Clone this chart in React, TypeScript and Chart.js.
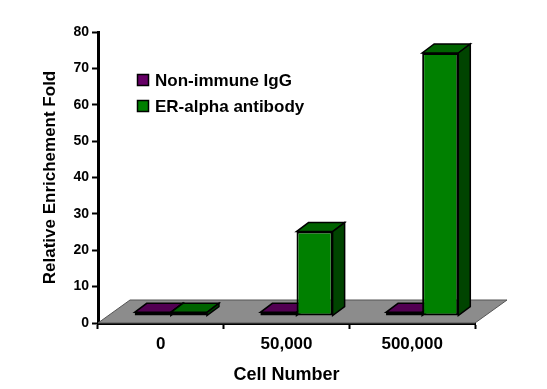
import React, { useEffect, useRef } from 'react';
import { Chart, registerables } from 'chart.js';

Chart.register(...registerables);

// ---- data ----
const categories = ['0', '50,000', '500,000'];
const seriesLabels = ['Non-immune IgG', 'ER-alpha antibody'];
const nonImmuneIgG = [1.0, 1.0, 1.0];
const erAlphaAntibody = [1.0, 23.2, 72.3];
const yMin = 0;
const yMax = 80;
const yStep = 10;
const xTitle = 'Cell Number';
const yTitle = 'Relative Enrichement Fold';

// ---- styles ----
const FONT = "'Liberation Sans', Arial, Helvetica, sans-serif";
const frontColors = ['#660066', '#008000'];
const topColors = ['#520052', '#006300'];
const sideColors = ['#3a003a', '#004400'];
const SHIFT_X = 10;
const SHIFT_Y = -7;
const DEPTH_X = 12;
const DEPTH_Y = -9;
const FLOOR_X = 32;
const FLOOR_Y = -23;

function poly(ctx: CanvasRenderingContext2D, pts: number[][], fill: string, stroke: string, lw: number) {
  ctx.beginPath();
  ctx.moveTo(pts[0][0], pts[0][1]);
  for (let i = 1; i < pts.length; i++) ctx.lineTo(pts[i][0], pts[i][1]);
  ctx.closePath();
  ctx.fillStyle = fill;
  ctx.fill();
  ctx.strokeStyle = stroke;
  ctx.lineWidth = lw;
  ctx.lineJoin = 'miter';
  ctx.stroke();
}

const threeD = {
  id: 'threeD',
  beforeDatasetsDraw(chart: any) {
    const { ctx, chartArea: a } = chart;
    ctx.save();
    // floor
    poly(
      ctx,
      [
        [a.left, a.bottom],
        [a.right, a.bottom],
        [a.right + FLOOR_X, a.bottom + FLOOR_Y],
        [a.left + FLOOR_X, a.bottom + FLOOR_Y],
      ],
      '#8c8c8c',
      '#555555',
      1
    );
    // top and side faces of each bar
    const metas = chart.getSortedVisibleDatasetMetas();
    const n = metas.length ? metas[0].data.length : 0;
    for (let i = 0; i < n; i++) {
      metas.forEach((meta: any) => {
        const el = meta.data[i];
        if (!el) return;
        const { x, y, base, width } = el.getProps(['x', 'y', 'base', 'width'], true);
        const l = x - width / 2 + SHIFT_X;
        const r = x + width / 2 + SHIFT_X;
        const t = y + SHIFT_Y;
        const b = base + SHIFT_Y;
        const di = meta.index;
        poly(ctx, [[l, t], [r, t], [r + DEPTH_X, t + DEPTH_Y], [l + DEPTH_X, t + DEPTH_Y]], topColors[di], '#000', 1.5);
        poly(ctx, [[r, t], [r, b], [r + DEPTH_X, b + DEPTH_Y], [r + DEPTH_X, t + DEPTH_Y]], sideColors[di], '#000', 1.5);
      });
    }
    ctx.restore();
    ctx.save();
    ctx.translate(SHIFT_X, SHIFT_Y);
  },
  afterDatasetsDraw(chart: any) {
    chart.ctx.restore();
  },
  afterDraw(chart: any) {
    const { ctx, chartArea: a } = chart;
    ctx.save();
    ctx.font = `bold 17px ${FONT}`;
    ctx.textBaseline = 'middle';
    ctx.textAlign = 'left';
    seriesLabels.forEach((lab, i) => {
      const cy = a.top + 48 + i * 26;
      const bx = a.left + 39.5;
      ctx.fillStyle = frontColors[i];
      ctx.fillRect(bx, cy - 5.5, 11, 11);
      ctx.strokeStyle = '#000';
      ctx.lineWidth = 1.5;
      ctx.strokeRect(bx, cy - 5.5, 11, 11);
      ctx.fillStyle = '#000';
      ctx.fillText(lab, a.left + 57, cy + 1);
    });
    ctx.restore();
  },
};

export default function App() {
  const ref = useRef<HTMLCanvasElement | null>(null);
  useEffect(() => {
    document.body.style.margin = '0';
    document.body.style.overflow = 'hidden';
    const canvas = ref.current;
    if (!canvas) return;
    const chart = new Chart(canvas, {
      type: 'bar',
      data: {
        labels: categories,
        datasets: [
          {
            label: seriesLabels[0],
            data: nonImmuneIgG,
            backgroundColor: frontColors[0],
            borderColor: '#000',
            borderWidth: 2,
            borderSkipped: false,
            barPercentage: 1,
            categoryPercentage: 0.575,
          },
          {
            label: seriesLabels[1],
            data: erAlphaAntibody,
            backgroundColor: frontColors[1],
            borderColor: '#000',
            borderWidth: 2,
            borderSkipped: false,
            barPercentage: 1,
            categoryPercentage: 0.575,
          },
        ],
      },
      options: {
        responsive: false,
        animation: false,
        devicePixelRatio: 1,
        layout: { padding: { left: 0, top: 32, right: 72, bottom: 0 } },
        plugins: {
          legend: { display: false },
          tooltip: { enabled: false },
          title: { display: false },
        },
        scales: {
          x: {
            z: 1,
            offset: true,
            grid: {
              offset: true,
              drawOnChartArea: false,
              drawTicks: true,
              tickLength: 6,
              tickWidth: 2,
              tickColor: '#000',
            },
            border: { display: true, color: '#000', width: 3 },
            ticks: {
              color: '#000',
              font: { family: FONT, size: 17, weight: 'bold' },
              padding: 5,
              maxRotation: 0,
              autoSkip: false,
            },
            title: {
              display: true,
              text: xTitle,
              color: '#000',
              font: { family: FONT, size: 18, weight: 'bold' },
              padding: { top: 0, bottom: 3 },
            },
            afterFit: (s: any) => {
              s.height = 66;
            },
          },
          y: {
            z: 1,
            min: yMin,
            max: yMax,
            grid: {
              drawOnChartArea: false,
              drawTicks: true,
              tickLength: 6,
              tickWidth: 2,
              tickColor: '#000',
            },
            border: { display: true, color: '#000', width: 3 },
            ticks: {
              stepSize: yStep,
              color: '#000',
              font: { family: FONT, size: 14, weight: 'bold' },
              padding: 3,
            },
            title: {
              display: true,
              text: yTitle,
              color: '#000',
              font: { family: FONT, size: 17, weight: 'bold' },
              padding: { top: 40, bottom: 0 },
            },
            afterFit: (s: any) => {
              s.width = 98;
            },
          },
        },
      } as any,
      plugins: [threeD],
    });
    return () => chart.destroy();
  }, []);
  return <canvas ref={ref} width={547} height={389} style={{ display: 'block' }} />;
}
